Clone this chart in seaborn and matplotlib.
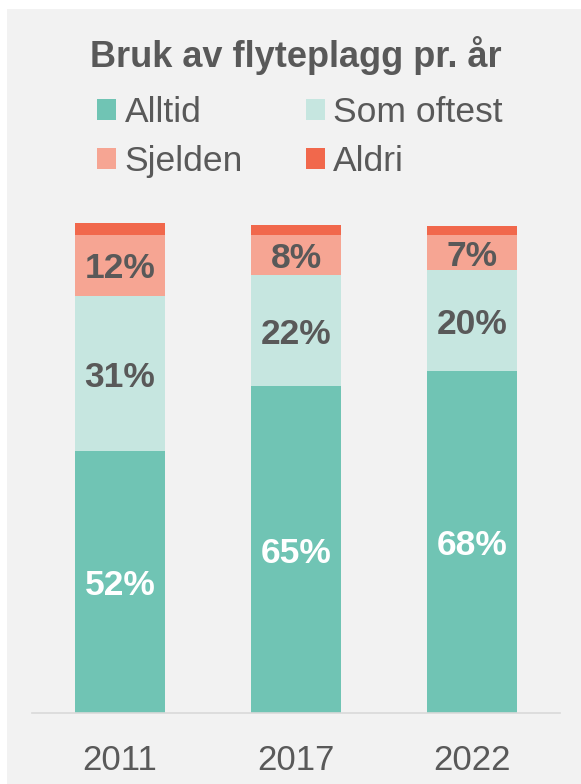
import numpy as np
import matplotlib
matplotlib.use("Agg")
import matplotlib.pyplot as plt
import seaborn as sns
from matplotlib.patches import Rectangle, Patch

years = ["2011", "2017", "2022"]
categories = ["Alltid", "Som oftest", "Sjelden", "Aldri"]
alltid = [52, 65, 68]
som_oftest = [31, 22, 20]
sjelden = [12, 8, 7]
aldri = [2.4, 2.0, 1.8]
labels_shown = ["52%", "65%", "68%"], ["31%", "22%", "20%"], ["12%", "8%", "7%"]

colors = ["#70C4B4", "#C6E6E0", "#F6A593", "#F1684C"]
label_colors = ["white", "#595959", "#595959", None]
text_col = "#595959"

sns.set_theme(style="white")
plt.rcParams["font.family"] = ["Liberation Sans", "DejaVu Sans"]

W, H = 581, 784
fig = plt.figure(figsize=(W / 100, H / 100), dpi=100, facecolor="white")
fig.patches.append(Rectangle((7 / W, 0), 1, 1 - 9 / H, transform=fig.transFigure,
                             facecolor="#F2F2F2", edgecolor="none", zorder=-10))

ax = fig.add_axes([32 / W, 1 - 713 / H, (560 - 32) / W, (713 - 200) / H])
ax.set_facecolor("none")

layers = [alltid, som_oftest, sjelden, aldri]
cum = np.cumsum(np.array(layers, dtype=float), axis=0)

# draw from top layer down so lower stacks overlap
for i in range(len(layers) - 1, -1, -1):
    sns.barplot(x=years, y=cum[i], color=colors[i], saturation=1, width=0.51,
                linewidth=0, ax=ax, order=years)

for i in range(3):
    vals = layers[i]
    for j, y in enumerate(years):
        mid = cum[i][j] - vals[j] / 2
        ax.text(j, mid, labels_shown[i][j], ha="center", va="center_baseline",
                fontsize=25.5, fontweight="bold", color=label_colors[i])

ax.set_ylim(0, 102)
ax.set_xlim(-0.5, 2.5)
ax.set_yticks([])
ax.set_xlabel("")
ax.set_ylabel("")
for s in ["top", "left", "right"]:
    ax.spines[s].set_visible(False)
ax.spines["bottom"].set_color("#D9D9D9")
ax.spines["bottom"].set_linewidth(1.2)
ax.tick_params(axis="x", length=0, pad=22, labelsize=25, labelcolor=text_col)

fig.text(296 / W, 1 - 67 / H, "Bruk av flyteplagg pr. år", ha="center", va="baseline",
         fontsize=26, fontweight="bold", color=text_col)

order = [0, 2, 1, 3]
handles = [Patch(facecolor=colors[k], edgecolor="none") for k in order]
fig.legend(handles, [categories[k] for k in order], ncol=2, loc="upper left",
           bbox_to_anchor=(97 / W, 1 - 96 / H), frameon=False, borderpad=0,
           borderaxespad=0, handlelength=0.55, handleheight=0.55,
           handletextpad=0.23, columnspacing=1.77, labelspacing=0.45,
           fontsize=25.5, labelcolor=text_col)

fig.savefig("out.png", dpi=100, facecolor="white")
